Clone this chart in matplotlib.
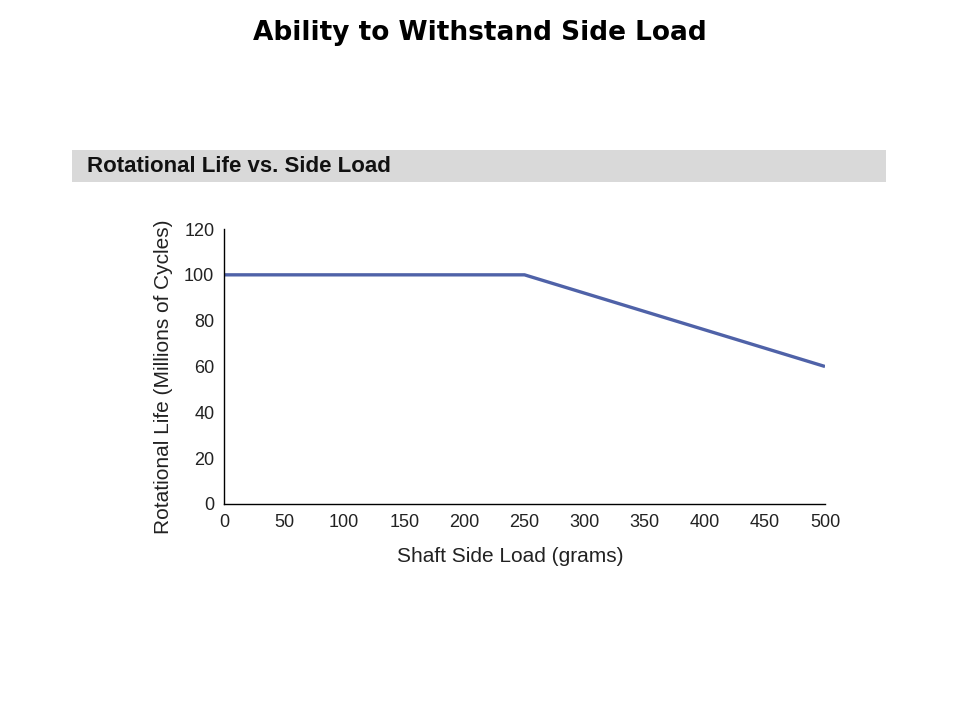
import matplotlib.pyplot as plt
from matplotlib.patches import Rectangle

# data
side_load = [0, 250, 500]
life = [100, 100, 60]
x_ticks = [0, 50, 100, 150, 200, 250, 300, 350, 400, 450, 500]
y_ticks = [0, 20, 40, 60, 80, 100, 120]

narrow = ['Liberation Sans Narrow', 'Liberation Sans', 'DejaVu Sans']

fig = plt.figure(figsize=(9.6, 7.2), dpi=100)

# slide title
fig.text(0.5, 1 - 33 / 720, 'Ability to Withstand Side Load', ha='center', va='center',
         fontsize=19, fontweight='bold', family='DejaVu Sans', color='black')

# grey banner with chart name
fig.patches.append(Rectangle((72 / 960, 1 - 182 / 720), (886 - 72) / 960, 32 / 720,
                             transform=fig.transFigure, facecolor='#d9d9d9',
                             edgecolor='none', zorder=0))
fig.text(87 / 960, 1 - 166 / 720, 'Rotational Life vs. Side Load', ha='left', va='center',
         fontsize=16, fontweight='bold', family='Liberation Sans', color='#111111')

ax = fig.add_axes([224 / 960, 1 - 504 / 720, (825 - 224) / 960, (504 - 229) / 720])
ax.plot(side_load, life, color='#4f62a8', linewidth=2.4, solid_capstyle='butt')

ax.set_xlim(0, 500)
ax.set_ylim(0, 120)
ax.set_xticks(x_ticks)
ax.set_yticks(y_ticks)
ax.spines['top'].set_visible(False)
ax.spines['right'].set_visible(False)
ax.spines['left'].set_linewidth(1.0)
ax.spines['bottom'].set_linewidth(1.0)
ax.tick_params(length=0, labelsize=13, colors='#222222', pad=7)
for lab in ax.get_xticklabels() + ax.get_yticklabels():
    lab.set_family(narrow)

ax.set_xlabel('Shaft Side Load (grams)', fontsize=15, family=narrow, color='#222222',
              labelpad=12, x=0.476)
ax.set_ylabel('Rotational Life (Millions of Cycles)', fontsize=15, family=narrow, color='#222222',
              labelpad=8, y=0.462)

fig.savefig('out.png', dpi=100)
